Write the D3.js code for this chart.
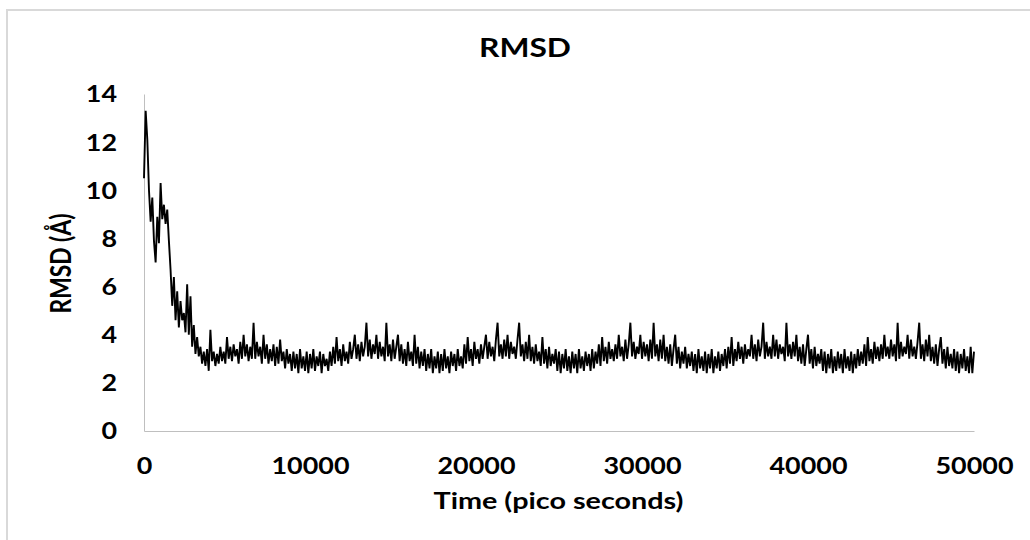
<!DOCTYPE html>
<html><head><meta charset="utf-8">
<script src="https://cdn.jsdelivr.net/npm/d3@7"></script>
<style>html,body{margin:0;padding:0;background:#fff;} svg{display:block;}</style>
</head><body>
<svg id="chart" width="1030" height="540"></svg>
<script>
const chartTitle = "RMSD";
const xTitle = "Time (pico seconds)";
const yTitle = "RMSD (Å)";
const timeStep = 100; // ps between samples
const rmsd = [
10.5,13.3,12.1,10.0,8.7,9.7,7.9,7.0,8.9,7.8,
10.3,8.8,9.4,8.6,9.2,7.9,6.7,5.2,6.4,4.6,
5.8,4.3,5.4,4.6,4.9,4.1,6.1,4.0,5.6,3.5,
4.4,3.2,3.9,3.1,3.5,2.8,3.3,2.7,3.4,2.5,
4.2,2.9,3.3,2.7,3.2,2.8,3.5,2.9,3.3,2.8,
3.9,3.0,3.5,2.9,3.6,3.1,3.4,2.8,3.7,3.0,
4.0,3.1,3.6,2.9,3.5,3.0,4.5,3.0,3.7,3.1,
3.5,2.8,4.0,3.0,3.6,2.8,3.4,2.9,3.6,2.7,
3.5,2.8,3.8,2.9,3.3,2.6,3.4,2.8,3.2,2.5,
3.3,2.6,3.2,2.4,3.4,2.6,3.1,2.5,3.3,2.4,
3.2,2.6,3.4,2.5,3.1,2.7,3.3,2.4,3.2,2.7,
3.0,2.5,3.3,2.7,3.5,2.8,3.9,2.9,3.4,2.7,
3.6,2.9,3.3,2.8,3.7,3.0,3.4,4.0,3.0,3.6,
2.9,3.7,3.1,3.5,4.5,3.1,3.8,3.0,3.6,3.2,
4.0,3.0,3.7,3.1,3.5,2.9,4.5,3.1,3.6,2.9,
3.8,3.0,3.5,4.0,2.9,3.6,2.8,3.4,2.7,3.7,
2.9,3.3,2.7,4.0,2.8,3.5,2.6,3.3,2.7,3.4,
2.5,3.2,2.6,3.4,2.4,3.1,2.6,3.3,2.4,3.2,
2.5,3.4,2.6,3.1,2.4,3.3,2.7,3.2,2.5,3.4,
2.7,3.1,2.6,3.6,2.8,3.9,2.9,3.4,2.7,3.7,
3.0,3.4,2.8,3.6,3.0,3.5,4.0,3.0,3.7,3.1,
3.5,2.9,3.8,4.5,3.1,3.6,3.0,3.8,3.1,4.0,
3.0,3.7,3.2,3.5,3.0,3.8,4.5,3.1,3.6,2.9,
3.7,3.0,4.0,2.9,3.5,2.8,3.6,2.9,3.3,2.7,
3.9,2.8,3.4,2.6,3.5,2.7,3.2,2.8,3.4,2.5,
3.3,2.4,3.2,2.6,3.4,2.5,3.1,2.4,3.3,2.6,
3.2,2.4,3.4,2.6,3.1,2.5,3.3,2.7,3.2,2.5,
3.4,2.6,3.3,2.8,3.6,2.7,3.9,2.9,3.5,2.8,
3.7,3.0,3.4,2.9,3.6,3.0,4.0,3.1,3.5,2.9,
3.8,3.0,3.6,4.5,3.1,3.7,3.0,3.5,3.2,4.0,
3.0,3.7,3.1,3.6,2.9,3.8,3.0,4.5,3.1,3.6,
2.9,3.8,3.0,4.0,2.9,3.5,2.8,3.6,2.7,3.4,
4.0,2.8,3.5,2.6,3.3,2.8,3.5,2.6,3.2,2.7,
3.3,2.5,3.2,2.4,3.4,2.6,3.1,2.5,3.3,2.4,
3.2,2.6,3.4,2.4,3.1,2.6,3.3,2.5,3.2,2.7,
3.4,2.6,3.5,2.8,3.9,2.7,3.4,2.9,3.7,3.0,
3.5,2.8,3.6,3.0,3.4,3.1,4.0,3.0,3.6,2.9,
3.8,3.1,3.5,4.5,3.0,3.7,3.1,3.5,3.0,4.0,
3.1,3.8,3.0,3.6,3.2,3.5,2.9,4.5,3.1,3.6,
3.0,3.7,3.1,4.0,2.9,3.5,2.8,3.6,2.7,3.4,
4.0,2.8,3.4,2.6,3.5,2.7,3.2,2.8,3.4,2.5,
3.3,2.4,3.2,2.6,3.4,2.4,3.1,2.5,3.3,2.6,
3.2,2.4,3.4,2.6,3.1,2.5,3.3,2.4,3.2,2.6,
3.4,2.7,3.3,2.8,3.6,2.7,3.9,2.9,3.4,2.8,
3.7,3.0,3.5,2.9,3.6,3.0,4.0,3.1,3.5,3.0,
3.8,3.1,3.6,2.9,4.5,3.0,3.7,3.1,3.5,3.2,
4.0,3.0,3.8,3.1,3.5,3.0,3.7,4.5,3.0,3.6,
2.9,3.8,3.1,4.0,2.9,3.5,2.8,3.6,2.7,3.4,
3.9,2.8,3.4,2.6,3.5,2.7,3.2,2.6,3.4,2.5,
3.3,2.4,3.2,2.6,3.4,2.5,3.1,2.4,3.5,2.4,
3.3
];
const xTicks = [0, 10000, 20000, 30000, 40000, 50000];
const yTicks = [0, 2, 4, 6, 8, 10, 12, 14];

const FONT = "Lato, 'Open Sans', 'DejaVu Sans', sans-serif";
const svg = d3.select("#chart");

svg.append("rect")
  .attr("x", 7).attr("y", 10).attr("width", 1040).attr("height", 540)
  .attr("fill", "#fff").attr("stroke", "#d9d9d9").attr("stroke-width", 2);

const x = d3.scaleLinear().domain([0, 50000]).range([144, 974]);
const y = d3.scaleLinear().domain([0, 14]).range([431, 94]);

function styleTicks(g) {
  g.attr("font-family", FONT).attr("font-size", 22).attr("font-weight", 700);
  g.select(".domain").attr("stroke", "#bfbfbf").attr("stroke-width", 1);
  g.selectAll(".tick line").remove();
  g.selectAll("text").attr("fill", "#000")
    .attr("lengthAdjust", "spacingAndGlyphs")
    .attr("textLength", function () { return this.textContent.length * 15.6; });
}

const gx = svg.append("g").attr("transform", "translate(0,431)")
  .call(d3.axisBottom(x).tickValues(xTicks).tickSize(0).tickSizeOuter(0).tickFormat(d3.format("d")));
styleTicks(gx);
gx.selectAll("text").attr("y", 43).attr("dy", null);

const gy = svg.append("g").attr("transform", "translate(144,0)")
  .call(d3.axisLeft(y).tickValues(yTicks).tickSize(0).tickSizeOuter(0).tickFormat(d3.format("d")));
styleTicks(gy);
gy.selectAll("text").attr("x", -27).attr("dy", "0.36em");

const line = d3.line()
  .x((d, i) => x(i * timeStep))
  .y(d => y(d));

svg.append("path")
  .datum(rmsd)
  .attr("fill", "none")
  .attr("stroke", "#000")
  .attr("stroke-width", 1.9)
  .attr("stroke-linejoin", "miter")
  .attr("d", line);

svg.append("text")
  .attr("x", 525).attr("y", 57)
  .attr("text-anchor", "middle")
  .attr("font-family", FONT).attr("font-weight", 700).attr("font-size", 27)
  .attr("textLength", 92).attr("lengthAdjust", "spacingAndGlyphs")
  .attr("fill", "#000")
  .text(chartTitle);

svg.append("text")
  .attr("x", 558.5).attr("y", 509)
  .attr("text-anchor", "middle")
  .attr("font-family", FONT).attr("font-weight", 700).attr("font-size", 22)
  .attr("textLength", 250).attr("lengthAdjust", "spacingAndGlyphs")
  .attr("fill", "#000")
  .text(xTitle);

svg.append("text")
  .attr("transform", "translate(70.5,263.5) rotate(-90)")
  .attr("text-anchor", "middle")
  .attr("font-family", FONT).attr("font-weight", 700).attr("font-size", 28)
  .attr("textLength", 100).attr("lengthAdjust", "spacingAndGlyphs")
  .attr("fill", "#000")
  .text(yTitle);
</script>
</body></html>
